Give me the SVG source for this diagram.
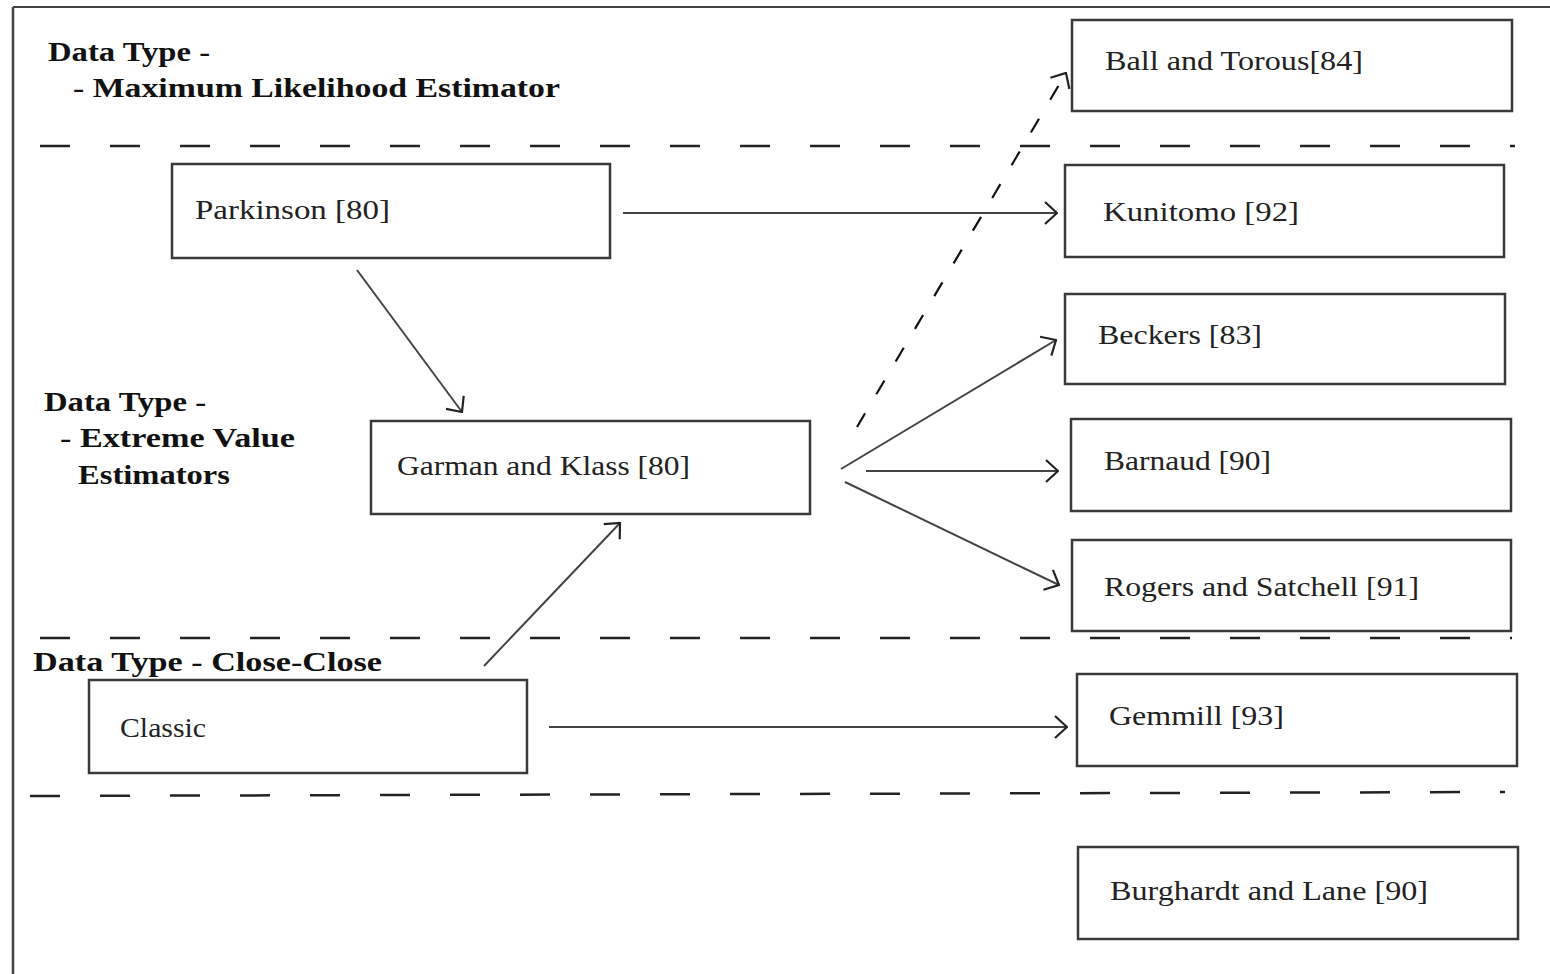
<svg xmlns="http://www.w3.org/2000/svg" width="1550" height="974" viewBox="0 0 1550 974">
<style>
.box{fill:#fff;stroke:#3a3a3a;stroke-width:2.5}
.t{font-family:"Liberation Serif",serif;font-size:28px;fill:#222}
.lb{font-family:"Liberation Serif",serif;font-size:27px;font-weight:bold;fill:#111}
.sep{stroke:#222;stroke-width:2.5;stroke-dasharray:30 40;fill:none}
.c{stroke:#444;stroke-width:2;fill:none}
.d{stroke:#111;stroke-width:2.2;fill:none;stroke-dasharray:16 22}
</style>
<defs>
<marker id="ah" viewBox="0 0 14 24" refX="13" refY="12" markerWidth="14" markerHeight="24" markerUnits="userSpaceOnUse" orient="auto">
<path d="M1,1 L13,12 L1,23" fill="none" stroke="#222" stroke-width="2.2"/>
</marker>
</defs>
<rect width="1550" height="974" fill="#fff"/>
<g id="frame">
<line x1="13" y1="7" x2="1550" y2="7" stroke="#444" stroke-width="2"/>
<line x1="13" y1="7" x2="13" y2="974" stroke="#444" stroke-width="2.5"/>
</g>
<g id="separators">
<line class="sep" x1="40" y1="146" x2="1515" y2="146"/>
<line class="sep" x1="40" y1="638" x2="1512" y2="638"/>
<line class="sep" x1="30" y1="796" x2="1505" y2="792"/>
</g>
<g id="labels">
<text class="lb" x="48" y="61" textLength="162" lengthAdjust="spacingAndGlyphs">Data Type -</text>
<text class="lb" x="73" y="97" textLength="487" lengthAdjust="spacingAndGlyphs">- Maximum Likelihood Estimator</text>
<text class="lb" x="44" y="411" textLength="162" lengthAdjust="spacingAndGlyphs">Data Type -</text>
<text class="lb" x="60" y="447" textLength="235" lengthAdjust="spacingAndGlyphs">- Extreme Value</text>
<text class="lb" x="78" y="484" textLength="152" lengthAdjust="spacingAndGlyphs">Estimators</text>
<text class="lb" x="33" y="671" textLength="349" lengthAdjust="spacingAndGlyphs">Data Type - Close-Close</text>
</g>
<g id="connectors">
<line class="c" x1="623" y1="213" x2="1057" y2="213" marker-end="url(#ah)"/>
<line class="c" x1="357" y1="270" x2="462" y2="412" marker-end="url(#ah)"/>
<line class="c" x1="484" y1="666" x2="620" y2="523" marker-end="url(#ah)"/>
<line class="c" x1="549" y1="727" x2="1067" y2="727" marker-end="url(#ah)"/>
<line class="c" x1="841" y1="469" x2="1056" y2="340" marker-end="url(#ah)"/>
<line class="c" x1="866" y1="471" x2="1058" y2="471" marker-end="url(#ah)"/>
<line class="c" x1="845" y1="482" x2="1059" y2="585" marker-end="url(#ah)"/>
<line class="d" x1="857" y1="427" x2="1066" y2="73" marker-end="url(#ah)"/>
</g>
<g id="ball"><rect class="box" x="1072" y="20" width="440" height="91"/><text class="t" x="1105" y="70" textLength="258" lengthAdjust="spacingAndGlyphs">Ball and Torous[84]</text></g>
<g id="parkinson"><rect class="box" x="172" y="164" width="438" height="94"/><text class="t" x="195" y="219" textLength="195" lengthAdjust="spacingAndGlyphs">Parkinson [80]</text></g>
<g id="kunitomo"><rect class="box" x="1065" y="165" width="439" height="92"/><text class="t" x="1103" y="221" textLength="196" lengthAdjust="spacingAndGlyphs">Kunitomo [92]</text></g>
<g id="beckers"><rect class="box" x="1065" y="294" width="440" height="90"/><text class="t" x="1098" y="344" textLength="164" lengthAdjust="spacingAndGlyphs">Beckers [83]</text></g>
<g id="garman"><rect class="box" x="371" y="421" width="439" height="93"/><text class="t" x="397" y="475" textLength="293" lengthAdjust="spacingAndGlyphs">Garman and Klass [80]</text></g>
<g id="barnaud"><rect class="box" x="1071" y="419" width="440" height="92"/><text class="t" x="1104" y="470" textLength="167" lengthAdjust="spacingAndGlyphs">Barnaud [90]</text></g>
<g id="rogers"><rect class="box" x="1072" y="540" width="439" height="91"/><text class="t" x="1104" y="596" textLength="315" lengthAdjust="spacingAndGlyphs">Rogers and Satchell [91]</text></g>
<g id="classic"><rect class="box" x="89" y="680" width="438" height="93"/><text class="t" x="120" y="737" textLength="86" lengthAdjust="spacingAndGlyphs">Classic</text></g>
<g id="gemmill"><rect class="box" x="1077" y="674" width="440" height="92"/><text class="t" x="1109" y="725" textLength="175" lengthAdjust="spacingAndGlyphs">Gemmill [93]</text></g>
<g id="burghardt"><rect class="box" x="1078" y="847" width="440" height="92"/><text class="t" x="1110" y="900" textLength="318" lengthAdjust="spacingAndGlyphs">Burghardt and Lane [90]</text></g>
</svg>
